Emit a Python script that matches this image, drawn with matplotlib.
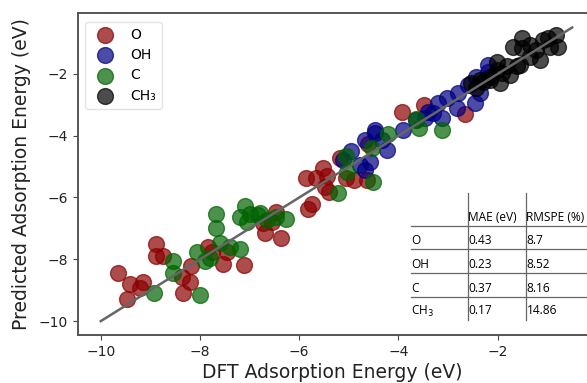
import matplotlib
matplotlib.use("Agg")
import matplotlib.pyplot as plt
from matplotlib.lines import Line2D

# ---- data (DFT, Predicted) ----
o_dft = [-9.66, -9.42, -9.15, -9.21, -9.48, -8.88, -8.89, -8.75, -8.37, -8.19, -8.21, -8.35,
         -7.84, -7.54, -7.46, -7.76, -7.12, -6.73, -6.69, -6.46, -6.36, -6.55,
         -5.87, -5.67, -5.52, -5.44, -5.48, -5.40, -5.75, -5.82, -5.06, -4.90, -4.64,
         -5.18, -4.61, -3.92, -3.49, -2.66]
o_pred = [-8.44, -8.80, -8.72, -8.93, -9.28, -7.50, -7.89, -7.89, -8.57, -8.21, -8.72, -9.09,
          -7.59, -8.15, -7.78, -7.76, -8.17, -6.82, -7.15, -6.46, -7.32, -6.79,
          -5.38, -5.38, -5.05, -5.32, -5.65, -5.81, -6.21, -6.38, -5.38, -5.43, -5.43,
          -4.73, -4.27, -3.22, -3.00, -3.29]

oh_dft = [-4.95, -5.11, -4.78, -4.68, -4.58, -4.48, -4.34, -4.24, -4.48, -3.91, -3.47, -3.20,
          -3.03, -3.13, -2.83, -2.80, -2.59, -2.46, -2.36, -2.43, -2.19, -3.40, -3.31,
          -2.19, -3.65, -4.68]
oh_pred = [-4.51, -4.78, -4.94, -5.11, -4.84, -3.92, -4.14, -4.46, -3.81, -3.81, -3.43, -2.95,
           -2.79, -3.43, -3.11, -2.62, -2.36, -2.95, -2.62, -2.09, -1.93, -3.22, -3.26,
           -1.71, -3.49, -4.14]

c_dft = [-8.93, -8.55, -8.55, -8.07, -8.00, -7.68, -7.68, -7.90, -7.80, -7.59, -7.40, -7.20,
         -7.10, -7.20, -7.06, -7.00, -6.83, -6.66, -6.46, -6.26, -6.79, -5.22, -5.06,
         -5.03, -4.52, -4.54, -3.64, -3.58, -3.13, -4.21]
c_pred = [-9.09, -8.07, -8.43, -7.78, -9.15, -6.54, -6.99, -8.07, -7.95, -7.48, -7.59, -7.66,
          -6.29, -6.64, -6.78, -6.53, -6.56, -6.72, -6.62, -6.70, -6.51, -5.86, -4.65,
          -5.16, -5.49, -4.40, -3.47, -3.76, -3.81, -3.94]

ch3_dft = [-2.53, -2.36, -2.16, -2.02, -1.82, -1.62, -1.75, -1.52, -1.69, -1.52, -1.35, -1.08,
           -0.83, -0.78, -1.15, -1.35, -1.55, -1.92, -2.02, -2.16, -2.29, -1.96, -0.95,
           -1.22, -2.44, -0.99]
ch3_pred = [-2.30, -2.19, -2.19, -1.87, -1.76, -1.76, -2.03, -0.84, -1.12, -1.17, -1.06, -0.90,
            -0.74, -1.12, -1.55, -1.44, -1.71, -1.98, -1.60, -2.09, -2.25, -2.30, -1.12,
            -1.22, -2.45, -0.83]

fit_x = [-10.0, -0.5]

table_cols = ["MAE (eV)", "RMSPE (%)"]
table_rows = ["O", "OH", "C", r"CH$_3$"]
table_mae = ["0.43", "0.23", "0.37", "0.17"]
table_rmspe = ["8.7", "8.52", "8.16", "14.86"]

W, H = 587, 383
fig = plt.figure(figsize=(W / 100, H / 100), dpi=100)
ax = fig.add_axes([78 / W, 1 - 335 / H, 1 - 78 / W, (335 - 13) / H])

s = 130
ax.scatter(o_dft, o_pred, s=s, color="darkred", alpha=0.7, label="O", zorder=2)
ax.scatter(oh_dft, oh_pred, s=s, color="navy", alpha=0.7, label="OH", zorder=2)
ax.scatter(c_dft, c_pred, s=s, color="darkgreen", alpha=0.7, label="C", zorder=2)
ax.scatter(ch3_dft, ch3_pred, s=s, color="black", alpha=0.7, label="CH₃", zorder=2)
ax.plot(fit_x, fit_x, color="#666666", lw=1.8, zorder=3)

ax.set_xlim(-10.46, -0.2)
ax.set_ylim(-10.45, -0.03)
ax.set_xticks([-10, -8, -6, -4, -2])
ax.set_yticks([-10, -8, -6, -4, -2])
ax.tick_params(labelsize=10, color="#444444", labelcolor="#222222")
for side in ["left", "bottom", "top"]:
    ax.spines[side].set_color("#555555")
    ax.spines[side].set_linewidth(1.4)
ax.spines["right"].set_visible(False)

ax.set_xlabel("DFT Adsorption Energy (eV)", fontsize=13.5, color="#222222", labelpad=3)
ax.set_ylabel("Predicted Adsorption Energy (eV)", fontsize=13.5, color="#222222", labelpad=6)

leg = ax.legend(loc="upper left", fontsize=10, frameon=True, borderpad=0.45,
                handletextpad=0.8, labelspacing=0.45, bbox_to_anchor=(0.0, 0.995))
leg.get_frame().set_edgecolor("#dddddd")

# ---- table drawn in figure pixel coordinates ----
def fx(px):
    return px / W

def fy(py):
    return 1 - py / H

lc = "#666666"
for py in [226, 249, 273, 297]:
    fig.add_artist(Line2D([fx(411), fx(587)], [fy(py), fy(py)], color=lc, lw=0.9))
for px in [468, 526]:
    fig.add_artist(Line2D([fx(px), fx(px)], [fy(193), fy(320)], color=lc, lw=0.9))

tfont = dict(fontsize=8.6, family="Open Sans", color="black", va="center")
fig.text(fx(468.5), fy(217), table_cols[0], **tfont)
fig.text(fx(526.5), fy(217), table_cols[1], **tfont)
row_y = [240, 264, 288, 311]
for lbl, mae, rm, py in zip(table_rows, table_mae, table_rmspe, row_y):
    fig.text(fx(411), fy(py), lbl, **tfont)
    fig.text(fx(468.5), fy(py), mae, **tfont)
    fig.text(fx(526.5), fy(py), rm, **tfont)

fig.savefig("out.png", dpi=100)
